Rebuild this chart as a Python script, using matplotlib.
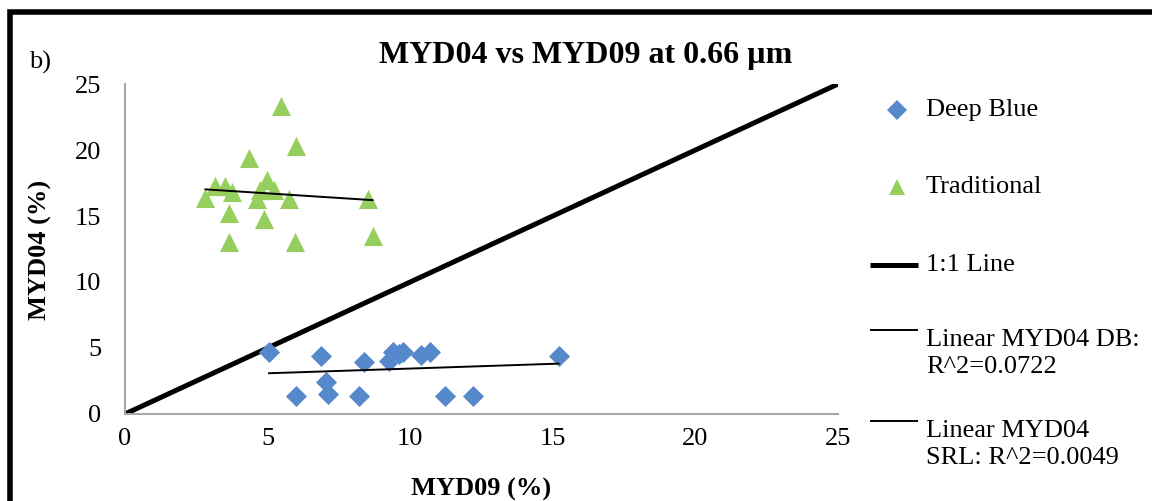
import matplotlib.pyplot as plt
import numpy as np
from matplotlib.lines import Line2D
from matplotlib.patches import Rectangle

plt.rcParams['font.family'] = ['Liberation Serif', 'DejaVu Serif']

# Deep Blue (MYD09 %, MYD04 %)
db_x = [5.05, 6.87, 5.99, 7.04, 7.10, 8.39, 8.22, 9.27, 9.39, 9.60, 9.75,
        10.39, 10.68, 11.21, 12.20, 15.20]
db_y = [4.72, 4.42, 1.39, 2.40, 1.52, 3.91, 1.39, 4.04, 4.67, 4.55, 4.70,
        4.50, 4.67, 1.39, 1.39, 4.42]

# Traditional (MYD09 %, MYD04 %)
tr_x = [5.46, 6.01, 4.34, 3.17, 3.52, 3.76, 2.82, 4.99, 5.22, 4.75, 4.64,
        5.75, 8.51, 3.66, 4.87, 3.66, 5.95, 8.68]
tr_y = [23.3, 20.3, 19.4, 17.3, 17.3, 16.8, 16.4, 17.7, 17.0, 17.0, 16.3,
        16.3, 16.3, 15.2, 14.8, 13.0, 13.0, 13.5]

one_to_one = [0, 25]
ticks = [0, 5, 10, 15, 20, 25]

blue = '#5689cc'
green = '#97cf5e'
grey = '#a6a6a6'
fs = 19

fig = plt.figure(figsize=(11.52, 5.01), dpi=100)
ax = fig.add_axes([0.1085, 0.1737, 0.619, 0.6586])

ax.plot(one_to_one, one_to_one, color='black', lw=3.6, solid_capstyle='butt', zorder=2)
ax.scatter(db_x, db_y, marker='D', s=115, color=blue, zorder=3, linewidths=0)
ax.scatter(tr_x, tr_y, marker='^', s=190, color=green, zorder=3, linewidths=0)

# linear trendlines
for xs, ys in [(db_x, db_y), (tr_x, tr_y)]:
    k, b = np.polyfit(xs, ys, 1)
    xr = np.array([min(xs), max(xs)])
    ax.plot(xr, k * xr + b, color='black', lw=1.4, zorder=4)

ax.set_xlim(0, 25)
ax.set_ylim(0, 25)
ax.set_xticks(ticks)
ax.set_yticks(ticks)
ax.tick_params(length=0, labelsize=fs)
ax.tick_params(axis='x', pad=10)
ax.tick_params(axis='y', pad=17)
for s in ['top', 'right']:
    ax.spines[s].set_visible(False)
for s in ['left', 'bottom']:
    ax.spines[s].set_color(grey)
    ax.spines[s].set_linewidth(1.5)

W, H = 1152, 501
fig.text(586 / W, 1 - 55 / H, 'MYD04 vs MYD09 at 0.66 µm', ha='center', va='center',
         fontsize=23, fontweight='bold')
fig.text(40 / W, 1 - 62 / H, 'b)', ha='center', va='center', fontsize=fs)
fig.text(481 / W, 1 - 489 / H, 'MYD09 (%)', ha='center', va='center',
         fontsize=fs, fontweight='bold')
fig.text(40 / W, 1 - 250 / H, 'MYD04 (%)', ha='center', va='center',
         fontsize=fs, fontweight='bold', rotation=90)

# legend drawn by hand so the line handles sit on the first text line
entries = [
    ('marker', 'D', blue, 'Deep Blue', 110),
    ('marker', '^', green, 'Traditional', 187),
    ('line', 3.6, 'black', '1:1 Line', 265),
    ('line', 1.4, 'black', 'Linear MYD04 DB:\nR^2=0.0722', 330),
    ('line', 1.4, 'black', 'Linear MYD04\nSRL: R^2=0.0049', 421),
]
for kind, style, col, label, ypx in entries:
    yf = 1 - ypx / H
    if kind == 'marker':
        fig.add_artist(Line2D([897 / W], [yf], marker=style, ls='none', color=col,
                              ms=10 if style == 'D' else 12, mew=0))
    else:
        fig.add_artist(Line2D([870 / W, 918 / W], [yf, yf], color=col, lw=style,
                              solid_capstyle='butt'))
    if '\n' in label:
        fig.text(926 / W, 1 - (ypx - 1) / H, label, ha='left', va='top',
                 fontsize=fs, linespacing=1.3)
    else:
        fig.text(926 / W, yf, label, ha='left', va='center', fontsize=fs)

# outer black frame (right and bottom run off the image)
fig.add_artist(Rectangle((10 / W, -0.1), 1.2, 1 - 11.5 / H + 0.1, fill=False,
                         edgecolor='black', lw=4, transform=fig.transFigure, clip_on=False))

fig.savefig('out.png', dpi=100)
